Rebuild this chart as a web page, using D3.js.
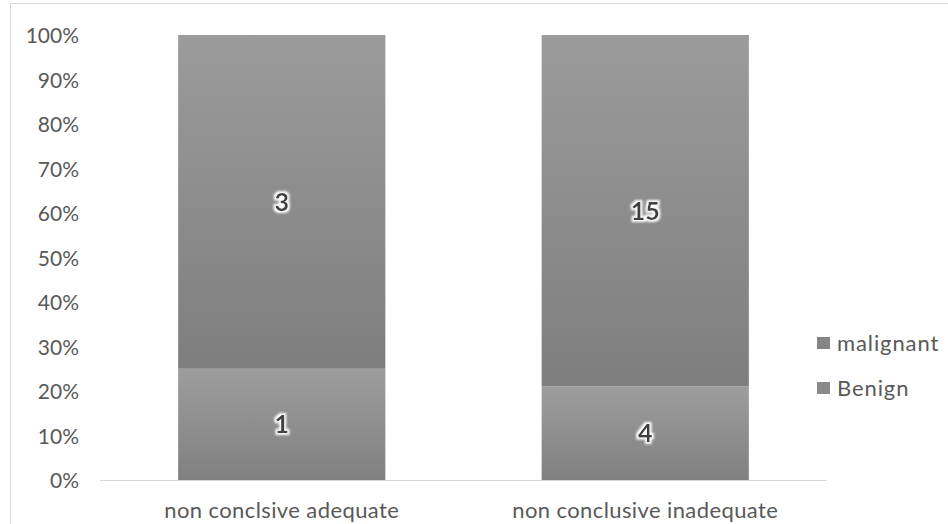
<!DOCTYPE html>
<html>
<head>
<meta charset="utf-8">
<script src="https://cdn.jsdelivr.net/npm/d3@7"></script>
<style>
  html, body { margin: 0; padding: 0; background: #fff; }
  svg { display: block; }
</style>
</head>
<body>
<svg id="chart" width="948" height="524"></svg>
<script>
// Counts per category, drawn as 100% stacked bars
const categories = ["non conclsive adequate", "non conclusive inadequate"];
const benign = [1, 4];
const malignant = [3, 15];
const seriesNames = ["Benign", "malignant"];
const tickLabels = ["0%", "10%", "20%", "30%", "40%", "50%", "60%", "70%", "80%", "90%", "100%"];

const svg = d3.select("#chart");
const font = "Lato, 'Open Sans', sans-serif";

// outer chart frame
svg.append("rect")
  .attr("x", 10.5).attr("y", 3.5)
  .attr("width", 960).attr("height", 540)
  .attr("fill", "none").attr("stroke", "#d9d9d9").attr("stroke-width", 1);

const defs = svg.append("defs");
// vertical shading on each segment
function grad(id, top, bottom) {
  const g = defs.append("linearGradient").attr("id", id)
    .attr("x1", 0).attr("y1", 0).attr("x2", 0).attr("y2", 1);
  g.append("stop").attr("offset", "0%").attr("stop-color", top);
  g.append("stop").attr("offset", "100%").attr("stop-color", bottom);
}
grad("g-malignant", "#9b9b9b", "#7e7e7e");
grad("g-Benign", "#9d9d9d", "#808080");

// soft white halo behind data labels
const glow = defs.append("filter").attr("id", "halo")
  .attr("x", "-50%").attr("y", "-50%").attr("width", "200%").attr("height", "200%");
glow.append("feMorphology").attr("in", "SourceAlpha").attr("operator", "dilate").attr("radius", 1.5).attr("result", "d");
glow.append("feGaussianBlur").attr("in", "d").attr("stdDeviation", 1.2).attr("result", "b");
glow.append("feFlood").attr("flood-color", "#ffffff").attr("result", "w");
glow.append("feComposite").attr("in", "w").attr("in2", "b").attr("operator", "in").attr("result", "h");
const m = glow.append("feMerge");
m.append("feMergeNode").attr("in", "h");
m.append("feMergeNode").attr("in", "SourceGraphic");

const x = d3.scaleBand().domain(categories).range([100, 827])
  .paddingInner(0.43).paddingOuter(0.215);
const y = d3.scaleLinear().domain([0, 1]).range([480, 35]);

const rows = categories.map((c, i) => {
  const total = benign[i] + malignant[i];
  return { cat: c, Benign: benign[i] / total, malignant: malignant[i] / total,
           nBenign: benign[i], nmalignant: malignant[i] };
});
const stacked = d3.stack().keys(seriesNames)(rows);

// y axis labels (no gridlines)
const yAxis = d3.axisLeft(y)
  .tickValues(d3.range(0, 1.0001, 0.1))
  .tickFormat((d, i) => tickLabels[i])
  .tickSize(0).tickPadding(0);
const ya = svg.append("g").attr("transform", "translate(79,0)").call(yAxis);
ya.select(".domain").remove();
ya.selectAll("text").attr("font-family", font).attr("font-size", 21)
  .attr("fill", "#595959").attr("dy", "0.36em");

// segments
stacked.forEach(s => {
  svg.append("g").selectAll("rect").data(s).join("rect")
    .attr("x", d => x(d.data.cat))
    .attr("width", x.bandwidth())
    .attr("y", d => y(d[1]))
    .attr("height", d => y(d[0]) - y(d[1]))
    .attr("fill", `url(#g-${s.key})`);
});

// baseline
svg.append("line").attr("x1", 100).attr("x2", 827)
  .attr("y1", y(0) + 0.5).attr("y2", y(0) + 0.5)
  .attr("stroke", "#d9d9d9").attr("stroke-width", 1);

// data labels (counts)
stacked.forEach(s => {
  svg.append("g").selectAll("text").data(s).join("text")
    .attr("x", d => x(d.data.cat) + x.bandwidth() / 2)
    .attr("y", d => y((d[0] + d[1]) / 2))
    .attr("dy", "0.36em")
    .attr("text-anchor", "middle")
    .attr("font-family", font).attr("font-weight", "bold").attr("font-size", 25)
    .attr("fill", "#404040")
    .attr("filter", "url(#halo)")
    .text(d => d.data["n" + s.key]);
});

// category axis labels
const xAxis = d3.axisBottom(x).tickSize(0).tickPadding(0);
const xa = svg.append("g").attr("transform", "translate(0,510)").call(xAxis);
xa.select(".domain").remove();
xa.selectAll("text").attr("font-family", font).attr("font-size", 22)
  .attr("letter-spacing", 0.4)
  .attr("fill", "#595959").attr("dy", "0.36em");

// legend
const legendItems = ["malignant", "Benign"];
const lg = svg.append("g").selectAll("g").data(legendItems).join("g")
  .attr("transform", (d, i) => `translate(817,${343 + i * 45})`);
lg.append("rect").attr("x", 0).attr("y", -6).attr("width", 13).attr("height", 12)
  .attr("fill", d => d === "malignant" ? "#858585" : "#8a8a8a");
lg.append("text").attr("x", 20).attr("dy", "0.36em")
  .attr("font-family", font).attr("font-size", 22).attr("letter-spacing", 0.9)
  .attr("fill", "#595959")
  .text(d => d);
</script>
</body>
</html>
